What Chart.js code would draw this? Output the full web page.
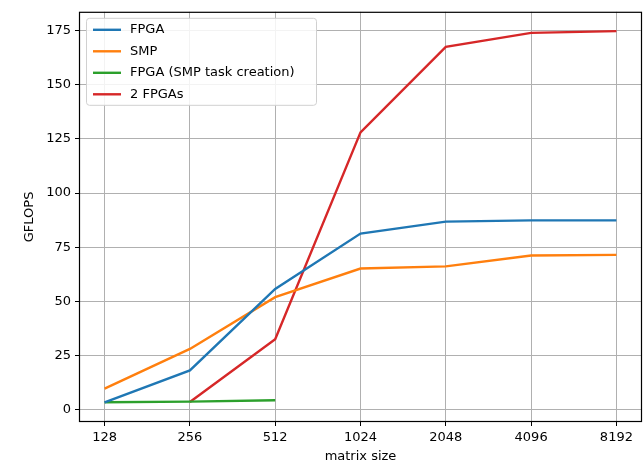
<!DOCTYPE html>
<html>
<head>
<meta charset="utf-8">
<script src="https://cdn.jsdelivr.net/npm/chart.js@4"></script>
<style>
  html, body { margin: 0; padding: 0; background: #fff; }
  #wrap { width: 644px; height: 465px; }
</style>
</head>
<body>
<div id="wrap"><canvas id="chart"></canvas></div>
<script>
var sizes = ["128", "256", "512", "1024", "2048", "4096", "8192"];
var fpga = [3.4, 18.2, 55.8, 81.3, 86.8, 87.4, 87.4];
var smp = [9.8, 28.1, 52.0, 65.2, 66.2, 71.2, 71.5];
var fpgaSmpTask = [3.5, 3.8, 4.4, null, null, null, null];
var twoFpgas = [null, 3.6, 32.6, 128.0, 167.4, 173.9, 174.7];
var yTicks = [0, 25, 50, 75, 100, 125, 150, 175];

function toPoints(values) {
  var pts = [];
  values.forEach(function (v, i) {
    if (v !== null) pts.push({ x: i, y: v });
  });
  return pts;
}

var font = { family: "DejaVu Sans", size: 13 };

// matplotlib-style frame and legend inside the plot
var framePlugin = {
  id: "frame",
  afterDraw: function (chart) {
    var ctx = chart.ctx;
    var a = chart.chartArea;
    ctx.save();
    ctx.strokeStyle = "#000";
    ctx.lineWidth = 1.2;
    ctx.strokeRect(a.left + 0.5, a.top + 0.5, a.right - a.left - 1, a.bottom - a.top - 1);

    // legend box
    var bx = a.left + 7, by = a.top + 6, bw = 230, bh = 87;
    ctx.fillStyle = "rgba(255,255,255,0.85)";
    ctx.strokeStyle = "#d0d0d0";
    ctx.lineWidth = 1;
    ctx.beginPath();
    ctx.roundRect(bx + 0.5, by + 0.5, bw, bh, 3);
    ctx.fill();
    ctx.stroke();
    ctx.font = "13px 'DejaVu Sans'";
    ctx.textBaseline = "middle";
    chart.data.datasets.forEach(function (ds, i) {
      var y = by + 12 + i * 21.5;
      ctx.strokeStyle = ds.borderColor;
      ctx.lineWidth = 2.4;
      ctx.beginPath();
      ctx.moveTo(bx + 7, y);
      ctx.lineTo(bx + 35, y);
      ctx.stroke();
      ctx.fillStyle = "#000";
      ctx.fillText(ds.label, bx + 44, y);
    });
    ctx.restore();
  }
};

new Chart(document.getElementById("chart"), {
  type: "line",
  data: {
    datasets: [
      { label: "FPGA", data: toPoints(fpga), borderColor: "#1f77b4" },
      { label: "SMP", data: toPoints(smp), borderColor: "#ff7f0e" },
      { label: "FPGA (SMP task creation)", data: toPoints(fpgaSmpTask), borderColor: "#2ca02c" },
      { label: "2 FPGAs", data: toPoints(twoFpgas), borderColor: "#d62728" }
    ]
  },
  options: {
    responsive: true,
    maintainAspectRatio: false,
    animation: false,
    layout: { padding: { left: 0, right: 2, top: 10, bottom: 0 } },
    elements: {
      line: { borderWidth: 2.4, tension: 0, fill: false },
      point: { radius: 0 }
    },
    plugins: {
      legend: { display: false },
      tooltip: { enabled: false }
    },
    scales: {
      x: {
        type: "linear",
        min: -0.3,
        max: 6.3,
        afterBuildTicks: function (scale) {
          scale.ticks = sizes.map(function (s, i) { return { value: i }; });
        },
        afterFit: function (scale) { scale.height = 43; },
        ticks: {
          font: font,
          color: "#000",
          padding: 4,
          maxRotation: 0,
          callback: function (v) { return sizes[v]; }
        },
        grid: { color: "#b0b0b0", tickColor: "#000", tickLength: 4 },
        border: { display: false },
        title: { display: true, text: "matrix size", font: font, color: "#000", padding: { top: 0, bottom: 1 } }
      },
      y: {
        type: "linear",
        min: -5.6,
        max: 183.6,
        afterBuildTicks: function (scale) {
          scale.ticks = yTicks.map(function (v) { return { value: v }; });
        },
        afterFit: function (scale) { scale.width = 79; },
        ticks: { font: font, color: "#000", padding: 4 },
        grid: { color: "#b0b0b0", tickColor: "#000", tickLength: 4 },
        border: { display: false },
        title: { display: true, text: "GFLOPS", font: font, color: "#000", padding: { top: 22, bottom: 0 } }
      }
    }
  },
  plugins: [framePlugin]
});
</script>
</body>
</html>
